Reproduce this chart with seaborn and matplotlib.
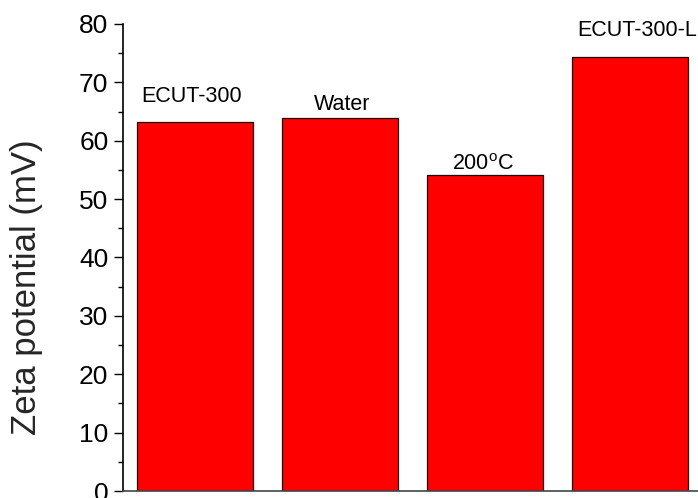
import matplotlib
matplotlib.use("Agg")
import matplotlib.pyplot as plt
import seaborn as sns
import pandas as pd

# Zeta potential of each sample (mV)
samples = ["ECUT-300", "Water", "200$^{\\mathrm{o}}$C", "ECUT-300-L"]
zeta_mv = [63.2, 63.9, 54.1, 74.3]
y_ticks = [0, 10, 20, 30, 40, 50, 60, 70, 80]

sns.set_theme(style="white")
plt.rcParams["font.family"] = ["Liberation Sans", "DejaVu Sans"]
plt.rcParams["mathtext.fontset"] = "custom"
plt.rcParams["mathtext.rm"] = "Liberation Sans"

df = pd.DataFrame({"sample": samples, "zeta": zeta_mv})

fig = plt.figure(figsize=(6.98, 4.98), dpi=100)
ax = fig.add_axes([123 / 698, 1 - 491 / 498, (702 - 123) / 698, (491 - 24) / 498])

sns.barplot(data=df, x="sample", y="zeta", color="#ff0000", saturation=1,
            width=0.8, edgecolor="#1a0000", linewidth=0.9, ax=ax)

# label each bar above its top (pixel offsets)
label_dx = [-4, 2, -2, 8]
label_dy = [20, 8, 5, 21]
for i, (name, val) in enumerate(zip(samples, zeta_mv)):
    ax.annotate(name, xy=(i, val), xytext=(label_dx[i], label_dy[i]),
                textcoords="offset pixels", ha="center", va="baseline",
                fontsize=15.5, color="black")

ax.set_xlim(-0.5, 3.5)
ax.set_ylim(0, 80)
ax.set_yticks(y_ticks)
ax.set_yticks(range(5, 80, 10), minor=True)
ax.set_xticks([])
ax.set_xlabel("")
ax.set_ylabel("Zeta potential (mV)", fontsize=25)
ax.yaxis.set_label_coords(-0.138, 0.437)
ax.tick_params(axis="y", which="major", direction="out", length=6.5, width=1.0,
               labelsize=19, pad=4, left=True, color="black", labelcolor="black")
ax.tick_params(axis="y", which="minor", direction="out", length=3.6, width=1.0,
               left=True, color="black")

for side in ["top", "right"]:
    ax.spines[side].set_visible(False)
ax.spines["left"].set_color("black")
ax.spines["left"].set_linewidth(1.2)
ax.spines["bottom"].set_color("#444444")
ax.spines["bottom"].set_linewidth(1.2)

fig.savefig("out.png", dpi=100)
